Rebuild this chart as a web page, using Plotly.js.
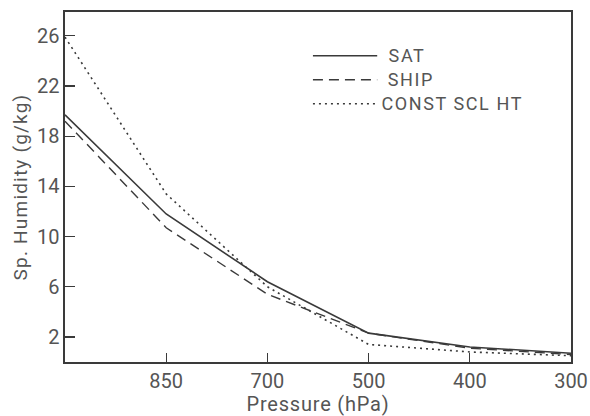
<!DOCTYPE html>
<html>
<head>
<meta charset="utf-8">
<script src="https://cdn.plot.ly/plotly-3.0.1.min.js"></script>
<style>
html,body{margin:0;padding:0;background:#fff;}
#chart{width:590px;height:416px;}
#chart text.annotation-text{letter-spacing:1.6px;}
#chart text.ytitle{letter-spacing:1.2px;}
#chart text.xtitle{letter-spacing:0.8px;}
</style>
</head>
<body>
<div id="chart"></div>
<script>
// Pressure levels (hPa), plotted at equal spacing
const levels = [1000, 850, 700, 500, 400, 300];
const tickLabels = ['', '850', '700', '500', '400', '300'];
const seriesNames = ['SAT', 'SHIP', 'CONST SCL HT'];
const sat = [19.7, 11.8, 6.4, 2.3, 1.2, 0.7];
const ship = [19.2, 10.7, 5.4, 2.3, 1.1, 0.6];
const constScl = [25.9, 13.4, 6.0, 1.4, 0.8, 0.5];
const yTicks = [2, 6, 10, 14, 18, 22, 26];

const idx = levels.map((p, i) => i);
const ink = '#3a3a3a';
const dashes = ['solid', '10px,6px', '2px,4px'];
const widths = [1.6, 1.4, 1.6];
const allY = [sat, ship, constScl];

const traces = allY.map((ys, k) => ({
  x: idx, y: ys, type: 'scatter', mode: 'lines', name: seriesNames[k],
  line: {color: ink, width: widths[k], dash: dashes[k]}, showlegend: false
}));

const font = {family: 'Roboto, "DejaVu Sans", sans-serif', color: '#555'};
const shapes = [];
const annotations = [];
seriesNames.forEach((n, k) => {
  const yy = 0.875 - k * 0.0686;
  shapes.push({type: 'line', xref: 'paper', yref: 'paper', x0: 0.49, x1: 0.617, y0: yy, y1: yy,
    line: {color: ink, width: widths[k], dash: dashes[k]}});
  annotations.push({xref: 'paper', yref: 'paper', x: 0.64, y: yy, xanchor: 'left', yanchor: 'middle',
    text: n, showarrow: false, font: Object.assign({size: 18}, font)});
});

const layout = {
  width: 590, height: 416,
  margin: {l: 65, r: 19, t: 12, b: 54},
  paper_bgcolor: '#fff', plot_bgcolor: '#fff',
  showlegend: false,
  font: font,
  xaxis: {
    range: [0, 5], tickvals: idx, ticktext: tickLabels,
    ticks: 'inside', ticklen: 9, tickcolor: ink, tickwidth: 1.2,
    showline: true, linecolor: ink, linewidth: 1.6, mirror: true,
    showgrid: false, zeroline: false, ticklabeloverflow: 'allow',
    tickfont: Object.assign({size: 20}, font),
    title: {text: 'Pressure (hPa)', font: Object.assign({size: 20}, font), standoff: 5}
  },
  yaxis: {
    range: [0, 27.9], tickvals: yTicks,
    ticks: 'inside', ticklen: 10, tickcolor: ink, tickwidth: 1.2,
    showline: true, linecolor: ink, linewidth: 1.6, mirror: true,
    showgrid: false, zeroline: false,
    tickfont: Object.assign({size: 20}, font),
    title: {text: 'Sp. Humidity (g/kg)', font: Object.assign({size: 19}, font), standoff: 4}
  },
  shapes: shapes,
  annotations: annotations
};

Plotly.newPlot('chart', traces, layout, {displayModeBar: false, staticPlot: true});
</script>
</body>
</html>
